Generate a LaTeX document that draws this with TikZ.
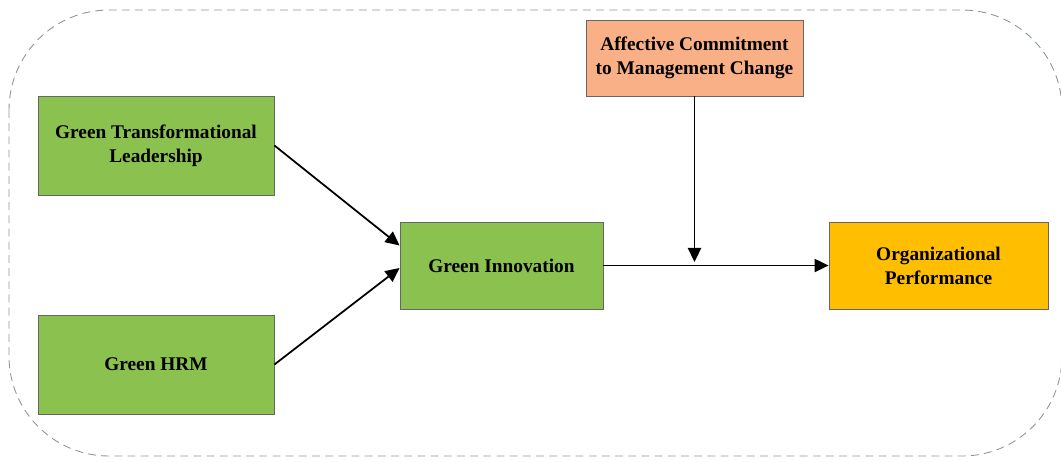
\documentclass[tikz,border=0pt]{standalone}
\usepackage{fontspec}
\setmainfont{Liberation Serif}
\usetikzlibrary{arrows.meta}

\definecolor{boxgreen}{RGB}{139,193,78}
\definecolor{boxpeach}{RGB}{249,176,134}
\definecolor{boxgold}{RGB}{255,190,0}
\definecolor{framegray}{RGB}{138,152,136}

\begin{document}
\begin{tikzpicture}[x=0.02cm,y=-0.02cm,
    every node/.style={draw=black!60,line width=0.5pt,inner sep=0,align=center,
      font=\bfseries\fontsize{11}{13.6}\selectfont},
    link/.style={-{Triangle[length=8pt,width=7.5pt]},line width=1pt}]
        \useasboundingbox (0,0) rectangle (1061,461);
        \draw[framegray,dash pattern=on 4.5pt off 3pt,rounded corners=2cm,line width=0.5pt] (9,10) rectangle (1062,456);
        \node[fill=boxgreen,minimum width=4.72cm,minimum height=1.98cm] (gtl) at (156,145.5) {Green Transformational\\Leadership};
        \node[fill=boxgreen,minimum width=4.72cm,minimum height=1.98cm] (hrm) at (156,364.5) {Green HRM};
        \node[fill=boxgreen,minimum width=4.06cm,minimum height=1.74cm] (gi) at (501.5,265.5) {Green Innovation};
        \node[fill=boxpeach,minimum width=4.34cm,minimum height=1.52cm] (ac) at (694.5,58) {Affective Commitment\\to Management Change};
        \node[fill=boxgold,minimum width=4.38cm,minimum height=1.74cm] (op) at (938.5,265.5) {Organizational\\Performance};
        \coordinate (mod) at (694.5,262);
        \draw[link] (gtl.east) -- ([yshift=0.4cm]gi.west);
        \draw[link] (hrm.east) -- ([yshift=-0.05cm]gi.west);
        \draw[link] (gi.east) -- (op.west);
        \draw[link] (ac.south) -- (mod);
      \end{tikzpicture}
\end{document}
